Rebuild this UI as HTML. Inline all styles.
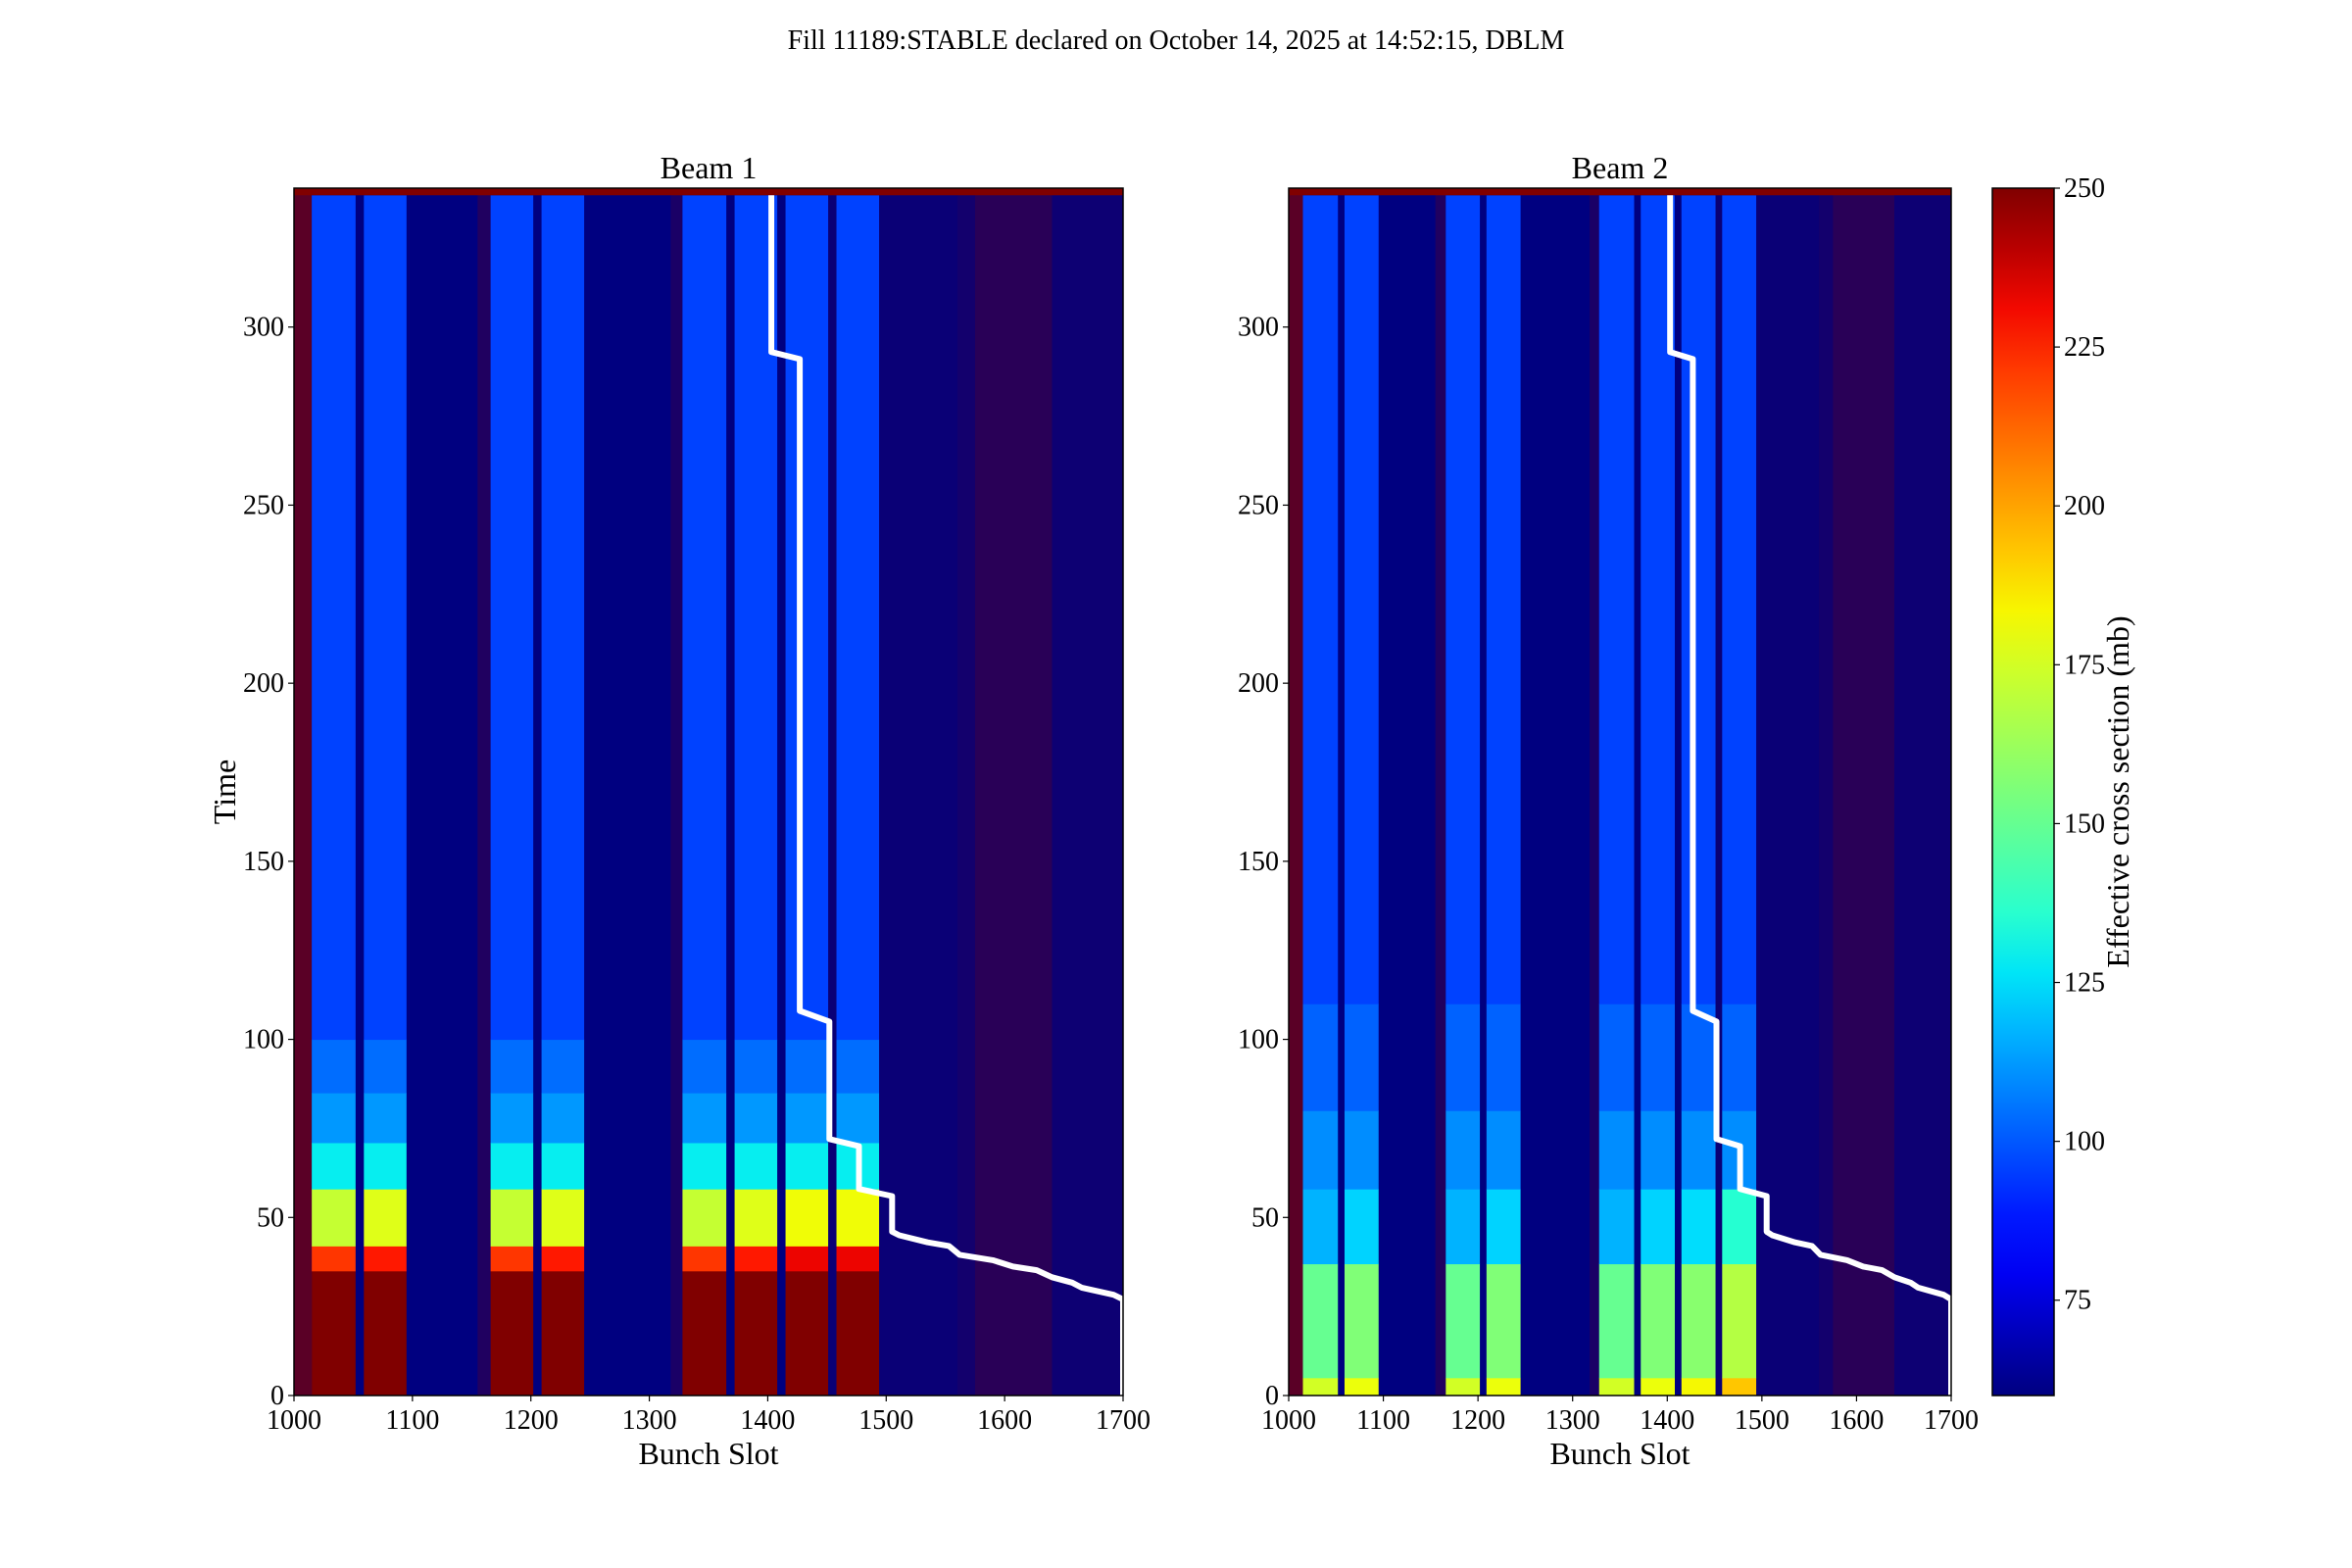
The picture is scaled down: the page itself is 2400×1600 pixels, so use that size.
<!DOCTYPE html>
<html><head><meta charset="utf-8">
<style>
html,body{margin:0;padding:0;background:#fff;}
svg{display:block;font-family:"Liberation Serif",serif;}
</style></head>
<body>
<svg id="fig" width="2400" height="1600" viewBox="0 0 2400 1600">
<text x="1200" y="50" font-size="28" text-anchor="middle">Fill 11189:STABLE declared on October 14, 2025 at 14:52:15, DBLM</text>
</svg>
<script>
// ---- data ----
const trainStart = [1015,1059,1166,1209,1328,1372,1415,1458];
const trainEnd   = [1052,1095,1202,1245,1365,1408,1451,1494];
const timeBreaks1 = [0,35,42,58,71,85,100,337];
const values1     = [250,222,172,128,112,104,96];
const trainBoost1 = [0,6,0,6,0,6,10,10];
const timeBreaks2 = [0,5,37,58,80,110,337];
const values2     = [175,150,117,110,102,96];
const trainBoost2 = [0,6,0,6,0,6,8,18];
const speckleStart = [1000,1155,1318,1450,1560,1575,1640];
const speckleEnd   = [1015,1166,1328,1560,1575,1640,1700];
const speckleDens  = [0.7,0.25,0.2,0.08,0.15,0.32,0.1];
const stepSlot = [1403,1403,1427,1427,1452,1452,1477,1477,1505,1505,1511,1535,1553,1562,1590,1607,1627,1640,1657,1665,1692,1700,1700];
const stepTime = [337,293,291,108,105,72,70,58,56,46,45,43,42,39.5,38,36.2,35.2,33.2,31.7,30.3,28.3,27,0];
const xTicks = [1000,1100,1200,1300,1400,1500,1600,1700];
const yTicks = [0,50,100,150,200,250,300];
const cbTicks = [75,100,125,150,175,200,225,250];
const xMin=1000,xMax=1700,yMin=0,yMax=339,vMin=60,vMax=250;

const NS="http://www.w3.org/2000/svg";
const svg=document.getElementById('fig');
function el(tag,attrs,parent){const e=document.createElementNS(NS,tag);for(const k in attrs)e.setAttribute(k,attrs[k]);(parent||svg).appendChild(e);return e;}
function jet(v){let t=Math.max(0,Math.min(1,(v-vMin)/(vMax-vMin)));
 let r=t<0.35?0:t<0.66?(t-0.35)/0.31:t<0.89?1:1-0.5*(t-0.89)/0.11;
 let g=t<0.125?0:t<0.375?(t-0.125)/0.25:t<0.64?1:t<0.91?1-(t-0.64)/0.27:0;
 let b=t<0.11?0.5+0.5*t/0.11:t<0.34?1:t<0.65?1-(t-0.34)/0.31:0;
 const f=x=>Math.round(Math.max(0,Math.min(1,x))*255);return `rgb(${f(r)},${f(g)},${f(b)})`;}
function mix(d){const r=Math.round(128*d),b=Math.round(128*(1-d));return `rgb(${r},0,${b})`;}

function panel(name,L,R,T,B,tb,vals,boost,showY){
 const g=el('g',{});
 const sx=s=>L+(s-xMin)/(xMax-xMin)*(R-L);
 const sy=t=>B-(t-yMin)/(yMax-yMin)*(B-T);
 let r=el('rect',{x:L,y:T,width:R-L,height:B-T,fill:jet(vMin)},g);
 
 for(let i=0;i<speckleStart.length;i++){
  const e=el('rect',{x:sx(speckleStart[i]),y:T,width:sx(speckleEnd[i])-sx(speckleStart[i]),height:B-T,fill:mix(speckleDens[i])},g);
  
 }
 for(let k=0;k<trainStart.length;k++){
  for(let j=0;j<vals.length;j++){
   const v=vals[j]+(j<3?boost[k]:0);
   const e=el('rect',{x:sx(trainStart[k]),y:sy(tb[j+1]),width:sx(trainEnd[k])-sx(trainStart[k]),height:sy(tb[j])-sy(tb[j+1])+0.5,fill:jet(v)},g);
   
  }
 }
 const top=el('rect',{x:L,y:T,width:R-L,height:sy(337)-T,fill:'#800000'},g);
 
 let d='';for(let i=0;i<stepSlot.length;i++)d+=(i?'L':'M')+sx(stepSlot[i]).toFixed(1)+' '+sy(stepTime[i]).toFixed(1);
 const p=el('path',{d:d,fill:'none',stroke:'#fff','stroke-width':6,'stroke-linejoin':'round'},g);
 
 const fr=el('rect',{x:L,y:T,width:R-L,height:B-T,fill:'none',stroke:'#000','stroke-width':1.5},g);
 
 xTicks.forEach(v=>{const x=sx(v);el('line',{x1:x,x2:x,y1:B,y2:B+6,stroke:'#000','stroke-width':1.2},g);
  const t=el('text',{x:x,y:B+34,'font-size':28,'text-anchor':'middle'},g);t.textContent=v;
  });
 yTicks.forEach(v=>{const y=sy(v);el('line',{x1:L-6,x2:L,y1:y,y2:y,stroke:'#000','stroke-width':1.2},g);
  const t=el('text',{x:L-10,y:y+9,'font-size':28,'text-anchor':'end'},g);t.textContent=v;
  });
 const xl=el('text',{x:(L+R)/2,y:B+70,'font-size':32,'text-anchor':'middle'},g);xl.textContent='Bunch Slot';
 
 const tl=el('text',{x:(L+R)/2,y:T-10,'font-size':32,'text-anchor':'middle'},g);tl.textContent=name==='beam1-panel'?'Beam 1':'Beam 2';
 
 if(showY){const yl=el('text',{x:0,y:0,'font-size':32,'text-anchor':'middle',transform:`translate(240,${(T+B)/2}) rotate(-90)`},g);yl.textContent='Time';
  }
}
panel('beam1-panel',300,1146,192,1424,timeBreaks1,values1,trainBoost1,true);
panel('beam2-panel',1315,1991,192,1424,timeBreaks2,values2,trainBoost2,false);

// colorbar
const cbL=2033,cbR=2096,cbT=192,cbB=1424;
const cb=el('g',{});
const defs=el('defs',{},svg);const lg=el('linearGradient',{id:'jetg',x1:0,y1:1,x2:0,y2:0},defs);
for(let i=0;i<=20;i++){el('stop',{offset:i/20,'stop-color':jet(vMin+(vMax-vMin)*i/20)},lg);}
el('rect',{x:cbL,y:cbT,width:cbR-cbL,height:cbB-cbT,fill:'url(#jetg)',stroke:'#000','stroke-width':1.5},cb);
const cy=v=>cbB-(v-vMin)/(vMax-vMin)*(cbB-cbT);
cbTicks.forEach(v=>{const y=cy(v);el('line',{x1:cbR,x2:cbR+6,y1:y,y2:y,stroke:'#000','stroke-width':1.2},cb);
 const t=el('text',{x:cbR+10,y:y+9,'font-size':28},cb);t.textContent=v;
 });
const cl=el('text',{x:0,y:0,'font-size':32,'text-anchor':'middle',transform:`translate(2172,${(cbT+cbB)/2}) rotate(-90)`},cb);
cl.textContent='Effective cross section (mb)';

</script>
</body></html>
